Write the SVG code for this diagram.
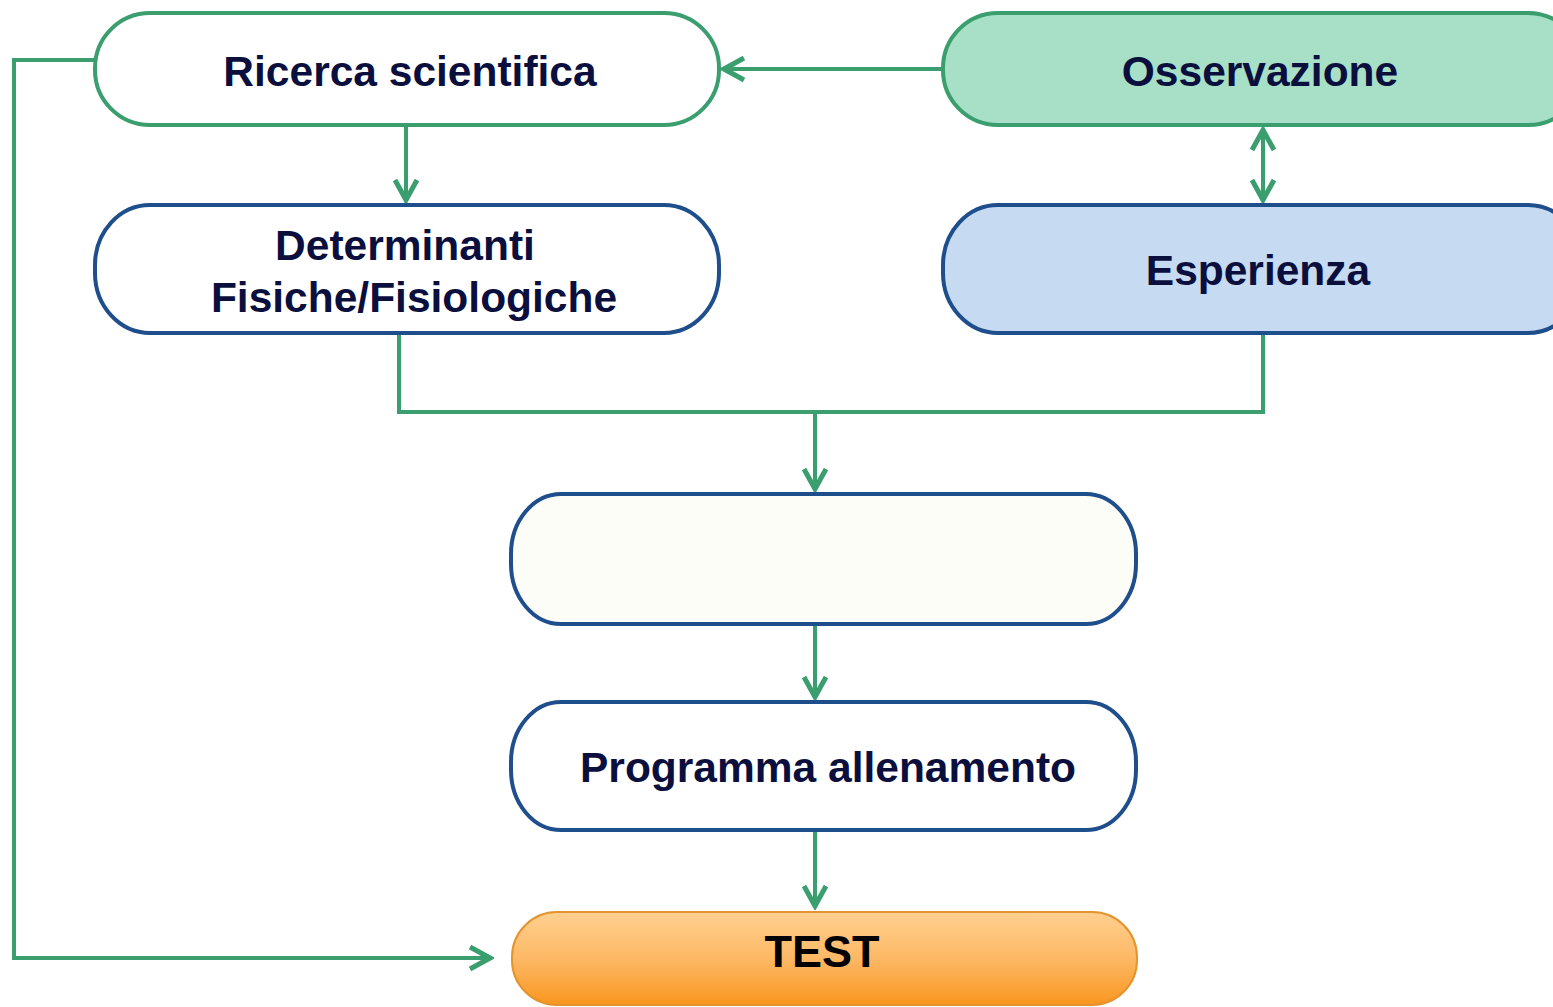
<svg xmlns="http://www.w3.org/2000/svg" width="1553" height="1007" viewBox="0 0 1553 1007">
<style>
.lbl{font-family:"Liberation Sans",Arial,sans-serif;font-weight:bold;font-size:42.5px;fill:#0b0f3d;text-anchor:middle}
.gn{stroke:#3a9e6e;stroke-width:4}
.bn{stroke:#1f4e8c;stroke-width:4}
.cn{fill:none;stroke:#3a9e6e;stroke-width:4}
</style>
<defs>
<marker id="ah" viewBox="-26 -15 30 30" markerWidth="30" markerHeight="30" refX="0" refY="0" orient="auto-start-reverse" markerUnits="userSpaceOnUse">
<path d="M-20,-11 L0,0 L-20,11" fill="none" stroke="#3a9e6e" stroke-width="5" stroke-linejoin="miter"/>
</marker>
<linearGradient id="og" x1="0" y1="0" x2="0" y2="1">
<stop offset="0" stop-color="#ffd090"/>
<stop offset="0.5" stop-color="#fdb865"/>
<stop offset="1" stop-color="#f9961f"/>
</linearGradient>
</defs>
<rect width="1553" height="1007" fill="#ffffff"/>
<g id="connectors">
<path class="cn" d="M943,69 L724,69" marker-end="url(#ah)"/>
<path class="cn" d="M406,126 L406,200" marker-end="url(#ah)"/>
<path class="cn" d="M1263,130 L1263,200" marker-start="url(#ah)" marker-end="url(#ah)"/>
<path class="cn" d="M399,334 L399,412 L1263,412 L1263,334"/>
<path class="cn" d="M815,412 L815,489" marker-end="url(#ah)"/>
<path class="cn" d="M815,625 L815,697" marker-end="url(#ah)"/>
<path class="cn" d="M815,831 L815,906" marker-end="url(#ah)"/>
<path class="cn" d="M95,60 L14,60 L14,958 L490,958" marker-end="url(#ah)"/>
</g>
<g id="ricerca">
<rect class="gn" x="95" y="13" width="624" height="112" rx="55" ry="55" fill="#ffffff"/>
<text class="lbl" x="410" y="86">Ricerca scientifica</text>
</g>
<g id="osservazione">
<rect class="gn" x="943" y="13" width="640" height="112" rx="55" ry="55" fill="#a8dfc7"/>
<text class="lbl" x="1260" y="86">Osservazione</text>
</g>
<g id="determinanti">
<rect class="bn" x="95" y="205" width="624" height="128" rx="55" ry="60" fill="#ffffff"/>
<text class="lbl" x="405" y="260">Determinanti</text>
<text class="lbl" x="414" y="312">Fisiche/Fisiologiche</text>
</g>
<g id="esperienza">
<rect class="bn" x="943" y="205" width="640" height="128" rx="55" ry="60" fill="#c6dbf1"/>
<text class="lbl" x="1258" y="285">Esperienza</text>
</g>
<g id="vuoto">
<rect class="bn" x="511" y="494" width="625" height="130" rx="50" ry="60" fill="#fdfdf8"/>
</g>
<g id="programma">
<rect class="bn" x="511" y="702" width="625" height="128" rx="50" ry="60" fill="#ffffff"/>
<text class="lbl" x="828" y="782">Programma allenamento</text>
</g>
<g id="test">
<rect x="512" y="912" width="625" height="93" rx="45" ry="45" fill="url(#og)" stroke="#e3942f" stroke-width="2"/>
<text x="822" y="967" style="font-family:'Liberation Sans',Arial,sans-serif;font-weight:bold;font-size:45px;fill:#000000;text-anchor:middle">TEST</text>
</g>
</svg>
